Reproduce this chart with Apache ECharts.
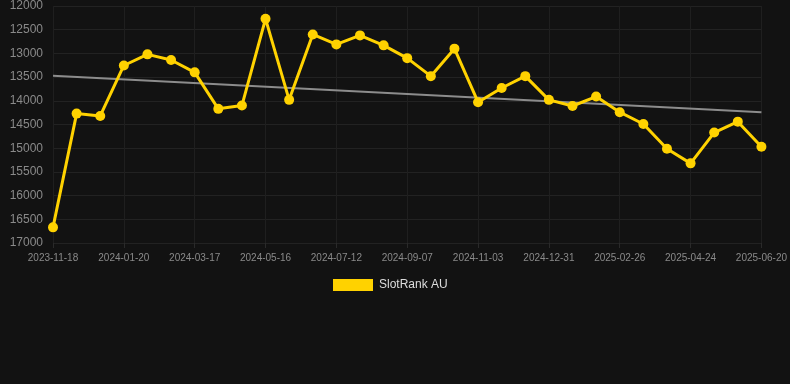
<!DOCTYPE html>
<html>
<head>
<meta charset="utf-8">
<script src="https://cdn.jsdelivr.net/npm/echarts@6/dist/echarts.min.js"></script>
<style>
  html, body { margin: 0; padding: 0; background: #121212; }
  #chart { width: 790px; height: 384px; }
</style>
</head>
<body>
<div id="chart"></div>
<script>
// categories (only every 3rd date is shown on the axis)
var dates = [
  '2023-11-18', '2023-12-09', '2023-12-30', '2024-01-20', '2024-02-08', '2024-02-27',
  '2024-03-17', '2024-04-06', '2024-04-26', '2024-05-16', '2024-06-03', '2024-06-22',
  '2024-07-12', '2024-07-31', '2024-08-19', '2024-09-07', '2024-09-26', '2024-10-15',
  '2024-11-03', '2024-11-22', '2024-12-11', '2024-12-31', '2025-01-19', '2025-02-07',
  '2025-02-26', '2025-03-17', '2025-04-05', '2025-04-24', '2025-05-13', '2025-06-01',
  '2025-06-20'
];
// rank values
var rankAU = [
  16670, 14270, 14320, 13255, 13020, 13140, 13400, 14170, 14100, 12270,
  13980, 12600, 12810, 12620, 12830, 13100, 13480, 12900, 14030, 13730,
  13480, 13980, 14110, 13910, 14240, 14490, 15010, 15320, 14670, 14440,
  14970
];
// trend line end points
var trendStart = 13470;
var trendEnd = 14240;

var trend = dates.map(function(d, i) {
  if (i === 0) return trendStart;
  if (i === dates.length - 1) return trendEnd;
  return null;
});

var chart = echarts.init(document.getElementById('chart'));
chart.setOption({
  backgroundColor: '#121212',
  textStyle: { fontFamily: 'Liberation Sans, Arial, sans-serif' },
  animation: false,
  grid: { left: 53, right: 28, top: 6, bottom: 141 },
  legend: {
    bottom: 88,
    left: 328,
    itemWidth: 40,
    itemHeight: 12,
    itemGap: 10,
    icon: 'rect',
    data: ['SlotRank AU'],
    textStyle: { color: '#ddd', fontSize: 12, padding: [0, 0, 0, 1] }
  },
  xAxis: {
    type: 'category',
    data: dates,
    boundaryGap: false,
    axisLine: { show: false },
    axisTick: { show: true, interval: 2, length: 5, lineStyle: { color: '#2a2a2a' } },
    axisLabel: { interval: 2, color: '#8a8a8a', fontSize: 10, margin: 10 },
    splitLine: { show: true, interval: 2, lineStyle: { color: '#1f1f1f' } }
  },
  yAxis: {
    type: 'value',
    inverse: true,
    min: 12000,
    max: 17000,
    interval: 500,
    axisLine: { show: false },
    axisTick: { show: false },
    axisLabel: {
      color: '#8a8a8a', fontSize: 12, margin: 10,
      formatter: function(v) { return String(v); }
    },
    splitLine: { lineStyle: { color: '#222' } }
  },
  series: [
    {
      name: 'Trend',
      type: 'line',
      data: trend,
      connectNulls: true,
      symbol: 'none',
      lineStyle: { color: '#8c8c8c', width: 2 },
      z: 1
    },
    {
      name: 'SlotRank AU',
      type: 'line',
      data: rankAU,
      symbol: 'circle',
      symbolSize: 10,
      color: '#FFD200',
      lineStyle: { color: '#FFD200', width: 3 },
      itemStyle: { color: '#FFD200' },
      z: 2
    }
  ]
});
</script>
</body>
</html>
